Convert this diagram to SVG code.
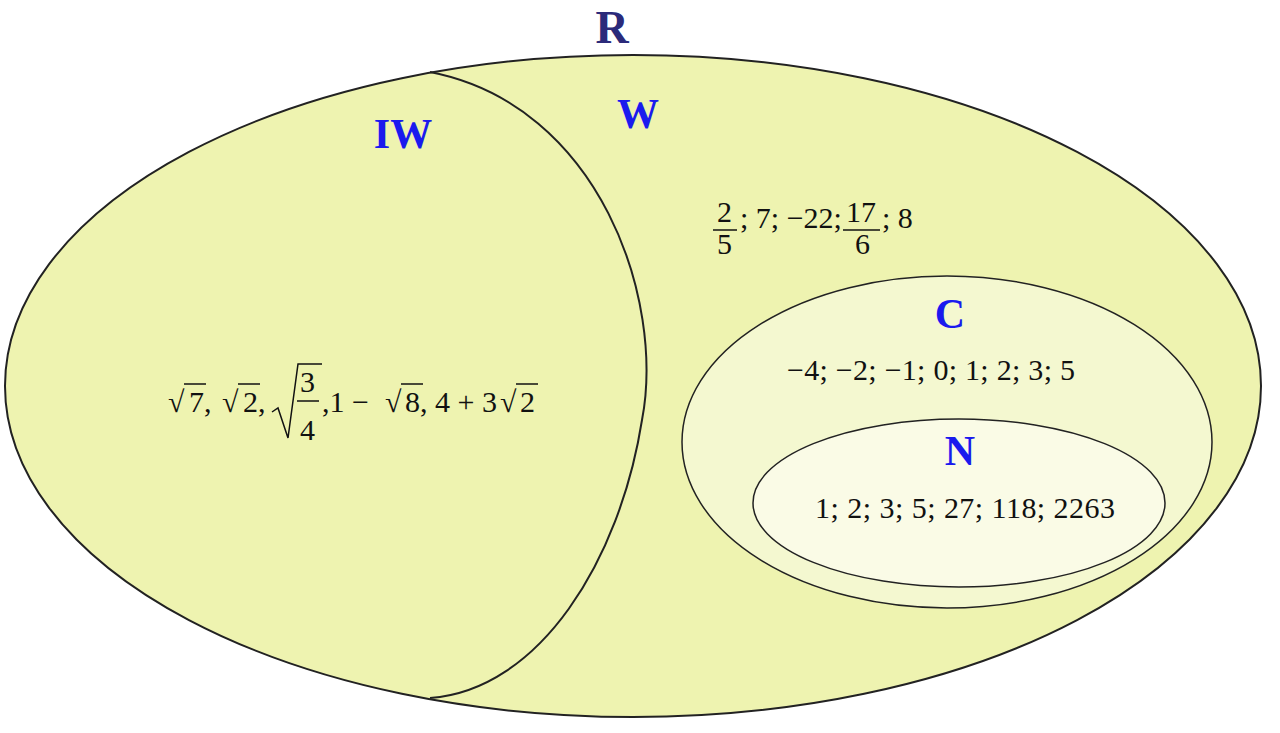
<svg xmlns="http://www.w3.org/2000/svg" width="1280" height="733" viewBox="0 0 1280 733">
<style>
.s{stroke:#222;stroke-width:2}
.lb{font-family:'Liberation Serif','Times New Roman',serif;font-weight:bold;fill:#1a1aee;text-anchor:middle}
.m{font-family:'Liberation Serif','Times New Roman',serif;font-size:30px;fill:#111}
.ln{stroke:#111;stroke-width:1.5;fill:none}
</style>
<rect width="1280" height="733" fill="#fff"/>
<g id="R">
<ellipse cx="633" cy="386" rx="628" ry="331" fill="#eef3b0" class="s"/>
<text x="612" y="43" class="lb" style="fill:#2b2a7a;font-size:46px">R</text>
</g>
<g id="IW">
<path d="M430,72 C600,105 665,300 642,420 C620,560 540,690 430,698" fill="none" class="s"/>
<text x="403" y="148" class="lb" font-size="42">IW</text>
<text x="168" y="412" class="m">√</text><line x1="184" y1="384" x2="206" y2="384" class="ln"/><text x="189" y="412" class="m">7,</text>
<text x="222" y="412" class="m">√</text><line x1="238" y1="384" x2="260" y2="384" class="ln"/><text x="243" y="412" class="m">2,</text>
<path d="M272,412 L278,408 L288,438 L298,364 L322,364" class="ln"/>
<text x="300" y="392" class="m">3</text><line x1="297" y1="401" x2="319" y2="401" class="ln"/><text x="300" y="440" class="m">4</text>
<text x="322" y="412" class="m">,1 −</text>
<text x="385" y="412" class="m">√</text><line x1="401" y1="384" x2="423" y2="384" class="ln"/><text x="405" y="412" class="m">8, 4 + 3</text>
<text x="500" y="412" class="m">√</text><line x1="516" y1="384" x2="538" y2="384" class="ln"/><text x="520" y="412" class="m">2</text>
</g>
<g id="W">
<text x="638" y="128" class="lb" font-size="42">W</text>
<text x="717" y="222" class="m">2</text><line x1="713" y1="230" x2="737" y2="230" class="ln"/><text x="717" y="254" class="m">5</text>
<text x="740" y="228" class="m">; 7; −22;</text>
<text x="846" y="222" class="m">17</text><line x1="843" y1="230" x2="880" y2="230" class="ln"/><text x="855" y="254" class="m">6</text>
<text x="882" y="228" class="m">; 8</text>
</g>
<g id="C">
<ellipse cx="947" cy="442" rx="265" ry="166" fill="#f4f8d0" stroke="#222" stroke-width="1.5"/>
<text x="950" y="328" class="lb" font-size="42">C</text>
<text x="787" y="380" class="m" textLength="288">−4; −2; −1; 0; 1; 2; 3; 5</text>
</g>
<g id="N">
<ellipse cx="959" cy="503" rx="206" ry="84" fill="#fafbe6" stroke="#222" stroke-width="1.5"/>
<text x="960" y="465" class="lb" font-size="42">N</text>
<text x="815" y="518" class="m" textLength="300">1; 2; 3; 5; 27; 118; 2263</text>
</g>
<g id="connectors"/>
</svg>
